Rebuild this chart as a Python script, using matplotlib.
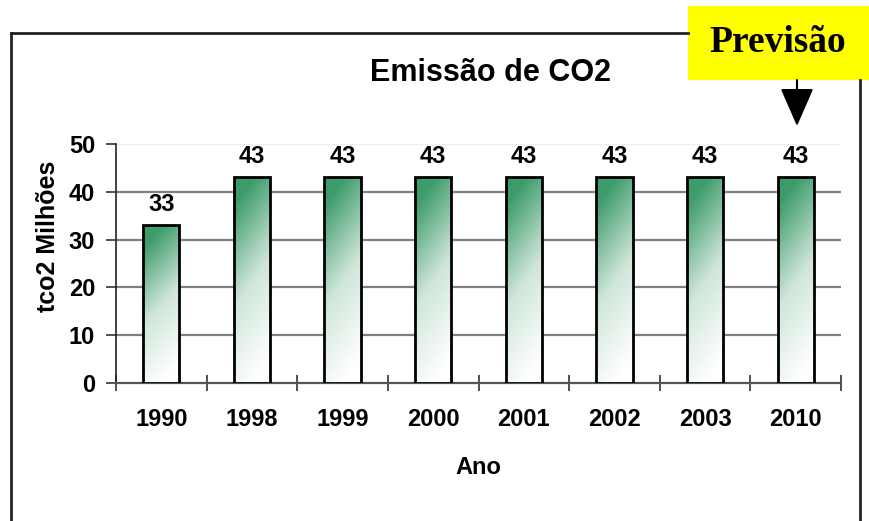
import numpy as np
import matplotlib
matplotlib.use("Agg")
import matplotlib.pyplot as plt
from matplotlib.colors import LinearSegmentedColormap
from matplotlib.patches import Rectangle, FancyArrowPatch

years = ["1990", "1998", "1999", "2000", "2001", "2002", "2003", "2010"]
values = [33, 43, 43, 43, 43, 43, 43, 43]
yticks = [0, 10, 20, 30, 40, 50]

plt.rcParams['font.family'] = ['Liberation Sans', 'DejaVu Sans']

fig = plt.figure(figsize=(8.69, 5.21), dpi=100)
ax = fig.add_axes([116/869, 1-383/521, (841-116)/869, (383-144)/521])

x = np.arange(len(years))
bars = ax.bar(x, values, width=0.4, facecolor='none', edgecolor='black', linewidth=2, zorder=4)

cmap = LinearSegmentedColormap.from_list('g', ['#ffffff', '#cfe6d9', '#3d9b6b'])
ny, nx = 100, 40
yy, xx = np.mgrid[0:1:ny*1j, 0:1:nx*1j]
grad = np.clip(1.0*yy + 0.25*(1-xx) - 0.12, 0, 1)
for b in bars:
    bx, by, bw, bh = b.get_x(), b.get_y(), b.get_width(), b.get_height()
    im = ax.imshow(grad, extent=[bx, bx+bw, by, by+bh], origin='lower', cmap=cmap,
                   vmin=0, vmax=1, aspect='auto', zorder=3, interpolation='bilinear')
    im.set_clip_path(b)

for xi, v in zip(x, values):
    ax.annotate(str(v), (xi, v), xytext=(0, 7), textcoords='offset points',
                ha='center', va='bottom', fontsize=17, fontweight='bold')

ax.set_xlim(-0.5, len(years)-0.5)
ax.set_ylim(0, 50)
ax.set_yticks(yticks)
ax.set_yticklabels([str(t) for t in yticks], fontsize=17, fontweight='bold')
for t in yticks[1:-1]:
    ax.axhline(t, color='#808080', lw=1.6, zorder=1)
ax.axhline(50, color='#eeeeee', lw=1, zorder=1)

ax.set_xticks(np.arange(len(years)+1)-0.5, minor=False)
ax.set_xticklabels([])
ax.set_xticks(x, minor=True)
ax.set_xticklabels(years, minor=True, fontsize=17, fontweight='bold')
ax.tick_params(axis='x', which='major', direction='inout', length=12, width=1.2, color='#333333')
ax.tick_params(axis='x', which='minor', length=0, pad=18)
ax.tick_params(axis='y', direction='out', length=7, width=1.2, pad=8, color='#333333')

for s in ['top', 'right']:
    ax.spines[s].set_visible(False)
ax.spines['left'].set_color('#222222')
ax.spines['left'].set_linewidth(1.2)
ax.spines['bottom'].set_color('#555555')
ax.spines['bottom'].set_linewidth(1.6)

ax.set_xlabel('Ano', fontsize=17, fontweight='bold', labelpad=18)
ax.set_ylabel('tco2 Milhões', fontsize=18, fontweight='bold')
ax.yaxis.set_label_coords(-0.077, 0.615)

fig.text(490/869, 1-81/521, 'Emissão de CO2', ha='center', va='baseline',
         fontsize=22, fontweight='bold')

# outer frame
fig.add_artist(plt.Line2D([11/869, 11/869], [0, 1-33/521], color='#222222', lw=2, transform=fig.transFigure))
fig.add_artist(plt.Line2D([11/869, 688/869], [1-33/521, 1-33/521], color='#222222', lw=2, transform=fig.transFigure))
fig.add_artist(plt.Line2D([860/869, 860/869], [0, 1-80/521], color='#222222', lw=2, transform=fig.transFigure))

# yellow box
fig.add_artist(Rectangle((688/869, 1-80/521), (869-688)/869, 74/521, transform=fig.transFigure,
                         facecolor='#ffff00', edgecolor='none'))
fig.text(778/869, 1-43/521, 'Previsão', ha='center', va='center', fontsize=27,
         fontweight='bold', family=['Liberation Serif', 'DejaVu Serif'])
fig.add_artist(FancyArrowPatch((797/869, 1-80/521), (797/869, 1-126/521), transform=fig.transFigure,
                               arrowstyle='-|>,head_length=16,head_width=7', color='black', lw=1.5,
                               mutation_scale=1.5, shrinkA=0, shrinkB=0))

fig.savefig('out.png', dpi=100, facecolor='white')
